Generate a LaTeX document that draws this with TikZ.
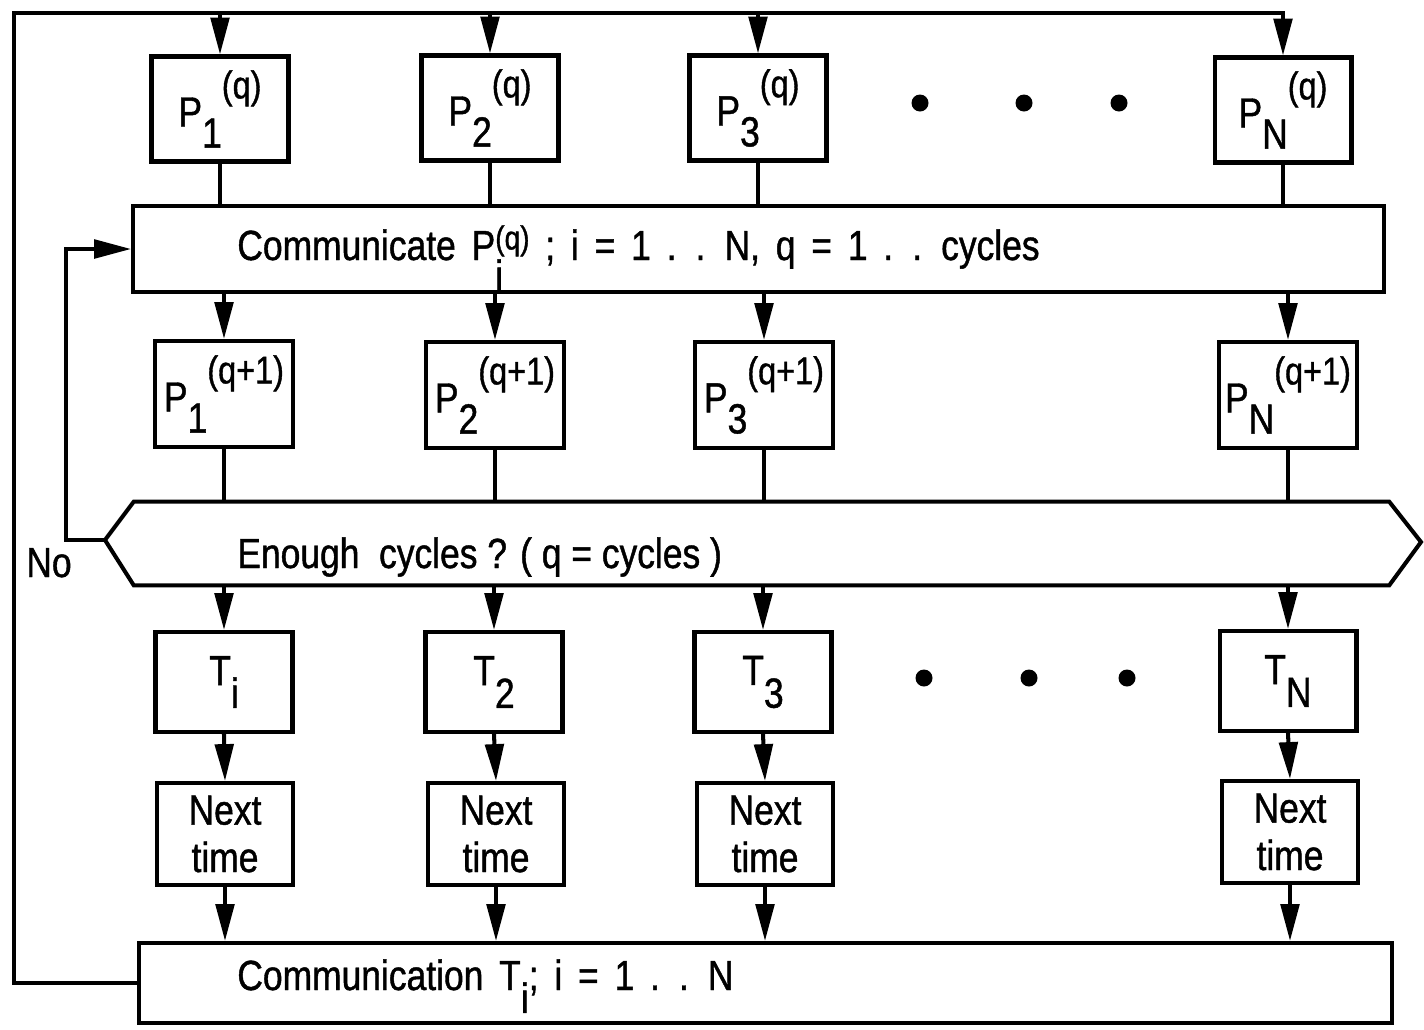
\documentclass[tikz,border=0pt]{standalone}
\usepackage{fontspec}
\setmainfont{Liberation Sans}[FakeStretch=0.84,FakeBold=1.0]
\usetikzlibrary{arrows.meta,calc}
\newcommand{\PQ}[2]{P\raisebox{-12pt}{#1}\raisebox{16pt}{\fontsize{22}{22}\selectfont #2}}
\newcommand{\TS}[1]{T\raisebox{-13pt}{#1}}
\newcommand{\PiQ}{P\rlap{\raisebox{-17pt}{i}}\raisebox{6pt}{\fontsize{19}{19}\selectfont (q)}}
\newcommand{\widesp}{\spaceskip=9pt plus 2pt\relax}
\tikzset{
  ln/.style={line width=2.3pt, line join=miter},
  arr/.style={ln, -{Triangle[length=21pt,width=10.5pt]}},
  bx/.style={draw, line width=2.3pt, inner sep=0pt, align=center},
  prow/.style={bx, minimum width=2.74cm, minimum height=2.1cm},
  qrow/.style={bx, minimum width=2.76cm, minimum height=2.12cm},
  trow/.style={bx, minimum width=2.74cm, minimum height=2.0cm},
  nrow/.style={bx, minimum width=2.72cm, minimum height=2.04cm},
  lbl/.style={inner sep=0pt, anchor=base west},
  every node/.style={font=\fontsize{24}{27}\selectfont}
}
\begin{document}
\begin{tikzpicture}[x=0.02cm,y=-0.02cm]
\useasboundingbox (0,0) rectangle (1424,1029);
% row 1
\node[prow] (P1) at (220,109) {\PQ{1}{(q)}};
\node[prow] (P2) at (490,108) {\PQ{2}{(q)}};
\node[prow] (P3) at (758,108) {\PQ{3}{(q)}};
\node[prow] (PN) at (1283,110) {\PQ{N}{(q)}};
% communicate box
\node[bx, minimum width=25.02cm, minimum height=1.72cm] (C1) at (758.5,249) {};
\node[lbl] (C1t) at (237,260) {\widesp Communicate \PiQ\ ; i = 1 . . N, q = 1 . . cycles};
% row 2
\node[qrow] (Q1) at (224,394) {\PQ{1}{(q+1)}};
\node[qrow] (Q2) at (495,395) {\PQ{2}{(q+1)}};
\node[qrow] (Q3) at (764,395) {\PQ{3}{(q+1)}};
\node[qrow] (QN) at (1288,395) {\PQ{N}{(q+1)}};
% decision hexagon
\node[inner sep=0pt, minimum width=25.1cm, minimum height=1.66cm] (H) at (761.5,543.5) {};
\coordinate (Hl) at (105,540);
\coordinate (Hr) at (1421,542);
\draw[ln] (H.north west) -- (H.north east) -- (Hr) -- (H.south east) -- (H.south west) -- (Hl) -- cycle;
\node[lbl] (Ht) at (237,568) {Enough\ \ cycles ? ( q = cycles )};
\node[lbl] (no) at (26,577) {No};
% row 3
\node[trow] (T1) at (224,682) {\TS{i}};
\node[trow] (T2) at (494,682) {\TS{2}};
\node[trow] (T3) at (763,682) {\TS{3}};
\node[trow] (TN) at (1288,681) {\TS{N}};
% row 4
\node[nrow] (N1) at (225,834) {Next\\time};
\node[nrow] (N2) at (496,834) {Next\\time};
\node[nrow] (N3) at (765,834) {Next\\time};
\node[nrow] (NN) at (1290,832) {Next\\time};
% communication box
\node[bx, minimum width=25.06cm, minimum height=1.6cm] (C2) at (765.5,983) {};
\node[lbl] (C2t) at (237,990) {\widesp Communication \TS{i}; i = 1 . . N};
% dots
\foreach \x in {920,1024,1119} \fill (\x,103) circle[radius=0.17cm];
\foreach \x in {924,1029,1127} \fill (\x,678) circle[radius=0.17cm];
% outer loop
\coordinate (corner) at (14,13);
\draw[arr] (C2.west) -| (corner) -| (PN.north);
\foreach \n in {P1,P2,P3} \draw[arr] (\n.north |- corner) -- (\n.north);
% P -> C1
\foreach \n in {P1,P2,P3,PN} \draw[ln] (\n.south) -- (\n.south |- C1.north);
% C1 -> Q
\foreach \n in {Q1,Q2,Q3,QN} \draw[arr] (\n.north |- C1.south) -- (\n.north);
% Q -> H
\foreach \n in {Q1,Q2,Q3,QN} \draw[ln] (\n.south) -- (\n.south |- H.north);
% H -> T
\foreach \n in {T1,T2,T3,TN} \draw[arr] (\n.north |- H.south) -- (\n.north);
% T -> Next
\draw[arr] (T1.south) -- (N1.north);
\draw[arr] (T2.south) -- (N2.north);
\draw[arr] (T3.south) -- (N3.north);
\draw[arr] (TN.south) -- (NN.north);
% Next -> C2
\foreach \n in {N1,N2,N3,NN} \draw[arr] (\n.south) -- (\n.south |- C2.north);
% feedback
\coordinate (fb) at (66,540);
\draw[arr] (Hl) -- (fb) |- (C1.west);
\end{tikzpicture}
\end{document}
